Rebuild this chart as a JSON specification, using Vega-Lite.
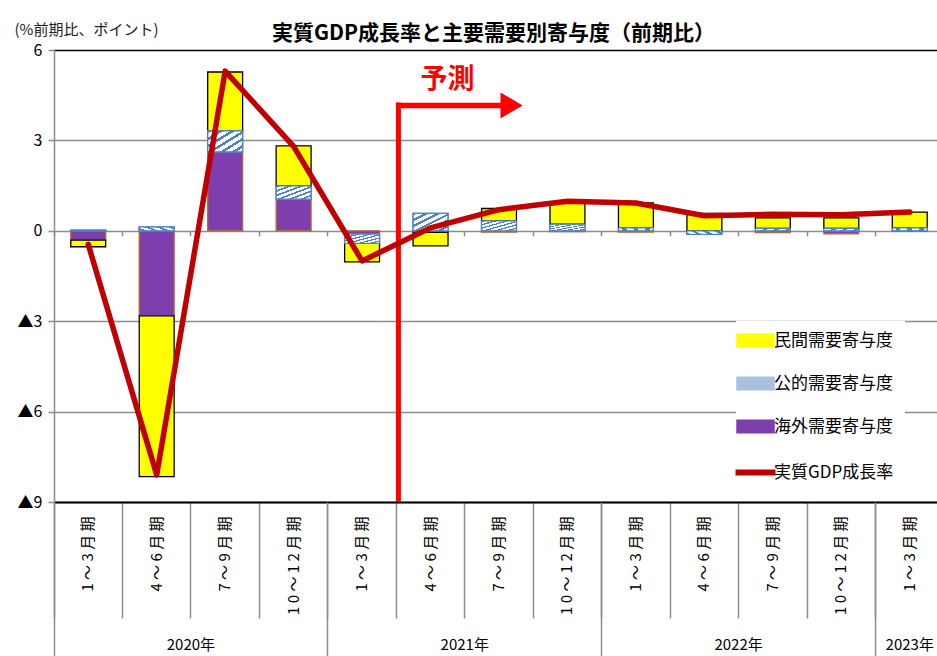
{
  "$schema": "https://vega.github.io/schema/vega-lite/v6.json",
  "width": 883,
  "height": 452,
  "autosize": {"type": "none"},
  "padding": {"left": 54, "top": 50, "right": 0, "bottom": 154},
  "background": "white",
  "config": {"view": {"stroke": null}, "font": "Noto Sans CJK JP"},
  "title": {
    "text": "実質GDP成長率と主要需要別寄与度（前期比）",
    "font": "Noto Sans CJK JP",
    "fontSize": 21,
    "fontWeight": "bold",
    "color": "black",
    "anchor": "middle",
    "frame": "group",
    "offset": 8,
    "dy": 30,
    "dx": -2
  },
  "data": {
    "values": [
      {"q": "2020|1～3月期", "民間需要寄与度": -0.22, "公的需要寄与度": 0.02, "海外需要寄与度": -0.31, "実質GDP成長率": -0.45},
      {"q": "2020|4～6月期", "民間需要寄与度": -5.34, "公的需要寄与度": 0.13, "海外需要寄与度": -2.82, "実質GDP成長率": -8.1},
      {"q": "2020|7～9月期", "民間需要寄与度": 1.95, "公的需要寄与度": 0.7, "海外需要寄与度": 2.62, "実質GDP成長率": 5.3},
      {"q": "2020|10～12月期", "民間需要寄与度": 1.33, "公的需要寄与度": 0.44, "海外需要寄与度": 1.05, "実質GDP成長率": 2.8},
      {"q": "2021|1～3月期", "民間需要寄与度": -0.61, "公的需要寄与度": -0.31, "海外需要寄与度": -0.11, "実質GDP成長率": -1.0},
      {"q": "2021|4～6月期", "民間需要寄与度": -0.45, "公的需要寄与度": 0.58, "海外需要寄与度": -0.05, "実質GDP成長率": 0.1},
      {"q": "2021|7～9月期", "民間需要寄与度": 0.41, "公的需要寄与度": 0.33, "海外需要寄与度": -0.04, "実質GDP成長率": 0.7},
      {"q": "2021|10～12月期", "民間需要寄与度": 0.69, "公的需要寄与度": 0.22, "海外需要寄与度": -0.03, "実質GDP成長率": 0.98},
      {"q": "2022|1～3月期", "民間需要寄与度": 0.83, "公的需要寄与度": 0.1, "海外需要寄与度": -0.04, "実質GDP成長率": 0.92},
      {"q": "2022|4～6月期", "民間需要寄与度": 0.58, "公的需要寄与度": -0.12, "海外需要寄与度": 0.0, "実質GDP成長率": 0.5},
      {"q": "2022|7～9月期", "民間需要寄与度": 0.35, "公的需要寄与度": 0.08, "海外需要寄与度": -0.06, "実質GDP成長率": 0.55},
      {"q": "2022|10～12月期", "民間需要寄与度": 0.35, "公的需要寄与度": 0.08, "海外需要寄与度": -0.1, "実質GDP成長率": 0.53},
      {"q": "2023|1～3月期", "民間需要寄与度": 0.52, "公的需要寄与度": 0.1, "海外需要寄与度": -0.02, "実質GDP成長率": 0.62}
    ]
  },
  "resolve": {"axis": {"x": "independent", "y": "independent"}},
  "layer": [
    {
      "transform": [
        {"fold": ["海外需要寄与度", "公的需要寄与度", "民間需要寄与度"], "as": ["comp", "v"]},
        {"stack": "v", "groupby": ["q"], "as": ["v0", "v1"]}
      ],
      "mark": {"type": "bar", "strokeWidth": 1.3},
      "encoding": {
        "x": {
          "field": "q",
          "type": "nominal",
          "scale": {
            "domain": ["2020|1～3月期", "2020|4～6月期", "2020|7～9月期", "2020|10～12月期", "2021|1～3月期", "2021|4～6月期", "2021|7～9月期", "2021|10～12月期", "2022|1～3月期", "2022|4～6月期", "2022|7～9月期", "2022|10～12月期", "2023|1～3月期"],
            "range": [0, 890],
            "paddingInner": 0.49,
            "paddingOuter": 0.245
          },
          "axis": {
            "orient": "bottom",
            "title": null,
            "bandPosition": -0.4803,
            "tickSize": 116,
            "tickColor": "#8c8c8c",
            "tickWidth": 1.5,
            "domainColor": "black",
            "domainWidth": 2,
            "labelAngle": -90,
            "labelAlign": "right",
            "labelBaseline": "middle",
            "labelPadding": -102,
            "labelFont": "Noto Sans CJK JP",
            "labelFontSize": 15,
            "labelColor": "black",
            "labelExpr": "datum.value ? join(split(split(datum.value, '|')[1], ''), ' ') : ''",
            "grid": false
          }
        },
        "y": {
          "field": "v0",
          "type": "quantitative",
          "scale": {"domain": [-9, 6], "nice": false, "zero": false},
          "axis": {
            "values": [-9, -6, -3, 0, 3, 6],
            "labelExpr": "datum.value < 0 ? '▲' + abs(datum.value) : '' + datum.value",
            "grid": true,
            "gridColor": {"condition": {"test": "datum.value === 6", "value": "black"}, "value": "#8c8c8c"},
            "gridWidth": 1.6,
            "domainColor": "#8c8c8c",
            "domainWidth": 1.5,
            "tickColor": "#8c8c8c",
            "tickSize": 6,
            "tickWidth": 1.5,
            "labelFont": "Noto Sans CJK JP",
            "labelFontSize": 16,
            "labelColor": "black",
            "labelPadding": 6,
            "title": "(%前期比、ポイント)",
            "titleAngle": 0,
            "titleX": -40,
            "titleY": -21,
            "titleAlign": "left",
            "titleBaseline": "middle",
            "titleFont": "Noto Sans CJK JP",
            "titleFontSize": 15,
            "titleFontWeight": "normal",
            "titleColor": "#222222"
          }
        },
        "y2": {"field": "v1"},
        "color": {
          "field": "comp",
          "type": "nominal",
          "scale": {
            "domain": ["民間需要寄与度", "公的需要寄与度", "海外需要寄与度", "実質GDP成長率"],
            "range": ["#FFFF00", "#A9C1DF", "#7D3FAD", "#C00000"]
          },
          "legend": {
            "orient": "none",
            "legendX": 682,
            "legendY": 271,
            "title": null,
            "fillColor": "white",
            "padding": 11,
            "symbolSize": 1444,
            "symbolStrokeWidth": 1.5,
            "rowPadding": 24,
            "labelFont": "Noto Sans CJK JP",
            "labelFontSize": 17,
            "labelColor": "black",
            "labelOffset": 10,
            "labelLimit": 300,
            "encode": {
              "symbols": {
                "update": {
                  "shape": {"signal": "datum.value === '実質GDP成長率' ? 'stroke' : 'M-1,-0.34H1V0.34H-1Z'"},
                  "size": {"signal": "datum.value === '実質GDP成長率' ? 1600 : 1369"},
                  "strokeWidth": {"signal": "datum.value === '実質GDP成長率' ? 6 : 1.5"},
                  "opacity": {"value": 1}
                }
              }
            }
          }
        },
        "stroke": {
          "field": "comp",
          "type": "nominal",
          "scale": {
            "domain": ["民間需要寄与度", "公的需要寄与度", "海外需要寄与度", "実質GDP成長率"],
            "range": ["#000000", "#4F81BD", "#B8662E", "#C00000"]
          }
        }
      }
    },
    {
      "transform": [
        {"fold": ["海外需要寄与度", "公的需要寄与度", "民間需要寄与度"], "as": ["comp", "v"]},
        {"stack": "v", "groupby": ["q"], "as": ["v0", "v1"]},
        {"filter": "datum.comp === '公的需要寄与度'"}
      ],
      "mark": {
        "type": "bar",
        "stroke": "#4F81BD",
        "strokeWidth": 1.3,
        "fill": {
          "gradient": "linear", "x1": 0, "y1": 0, "x2": 1, "y2": 1,
          "stops": [
            {"offset": 0, "color": "#4F81BD"}, {"offset": 0.0667, "color": "#4F81BD"}, {"offset": 0.0667, "color": "#FFFFFF"}, {"offset": 0.1667, "color": "#FFFFFF"},
            {"offset": 0.1667, "color": "#4F81BD"}, {"offset": 0.2333, "color": "#4F81BD"}, {"offset": 0.2333, "color": "#FFFFFF"}, {"offset": 0.3333, "color": "#FFFFFF"},
            {"offset": 0.3333, "color": "#4F81BD"}, {"offset": 0.4, "color": "#4F81BD"}, {"offset": 0.4, "color": "#FFFFFF"}, {"offset": 0.5, "color": "#FFFFFF"},
            {"offset": 0.5, "color": "#4F81BD"}, {"offset": 0.5667, "color": "#4F81BD"}, {"offset": 0.5667, "color": "#FFFFFF"}, {"offset": 0.6667, "color": "#FFFFFF"},
            {"offset": 0.6667, "color": "#4F81BD"}, {"offset": 0.7333, "color": "#4F81BD"}, {"offset": 0.7333, "color": "#FFFFFF"}, {"offset": 0.8333, "color": "#FFFFFF"},
            {"offset": 0.8333, "color": "#4F81BD"}, {"offset": 0.9, "color": "#4F81BD"}, {"offset": 0.9, "color": "#FFFFFF"}, {"offset": 1, "color": "#FFFFFF"}
          ]
        }
      },
      "encoding": {
        "x": {
          "field": "q",
          "type": "nominal",
          "scale": {
            "domain": ["2020|1～3月期", "2020|4～6月期", "2020|7～9月期", "2020|10～12月期", "2021|1～3月期", "2021|4～6月期", "2021|7～9月期", "2021|10～12月期", "2022|1～3月期", "2022|4～6月期", "2022|7～9月期", "2022|10～12月期", "2023|1～3月期"]
          },
          "axis": {
            "orient": "bottom",
            "title": null,
            "values": ["2020|1～3月期", "2021|1～3月期", "2022|1～3月期", "2023|1～3月期"],
            "bandPosition": -0.4803,
            "tickSize": 154,
            "tickColor": "#8c8c8c",
            "tickWidth": 1.5,
            "labels": false,
            "domain": false,
            "grid": false
          }
        },
        "y": {"field": "v0", "type": "quantitative", "axis": null},
        "y2": {"field": "v1"}
      }
    },
    {
      "data": {"values": [{"label": "予測"}]},
      "mark": {"type": "rule", "color": "#FF0000", "strokeWidth": 5},
      "encoding": {
        "x": {
          "datum": "2021|4～6月期",
          "type": "nominal",
          "bandPosition": -0.42,
          "scale": {
            "domain": ["2020|1～3月期", "2020|4～6月期", "2020|7～9月期", "2020|10～12月期", "2021|1～3月期", "2021|4～6月期", "2021|7～9月期", "2021|10～12月期", "2022|1～3月期", "2022|4～6月期", "2022|7～9月期", "2022|10～12月期", "2023|1～3月期"]
          },
          "axis": {
            "orient": "bottom",
            "title": null,
            "values": ["2020|7～9月期", "2021|7～9月期", "2022|7～9月期"],
            "ticks": false,
            "domain": false,
            "grid": false,
            "labelOffset": -34.23,
            "labelPadding": 135,
            "labelAngle": 0,
            "labelAlign": "center",
            "labelBaseline": "top",
            "labelFont": "Noto Sans CJK JP",
            "labelFontSize": 15,
            "labelColor": "black",
            "labelExpr": "datum.value ? split(datum.value, '|')[0] + '年' : ''"
          }
        },
        "y": {"datum": -9, "type": "quantitative", "axis": null},
        "y2": {"datum": 4.26}
      }
    },
    {
      "data": {"values": [{"label": "予測"}]},
      "mark": {"type": "rule", "color": "#FF0000", "strokeWidth": 5.5},
      "encoding": {
        "x": {
          "datum": "2021|4～6月期",
          "type": "nominal",
          "bandPosition": -0.48,
          "scale": {
            "domain": ["2020|1～3月期", "2020|4～6月期", "2020|7～9月期", "2020|10～12月期", "2021|1～3月期", "2021|4～6月期", "2021|7～9月期", "2021|10～12月期", "2022|1～3月期", "2022|4～6月期", "2022|7～9月期", "2022|10～12月期", "2023|1～3月期"]
          },
          "axis": {
            "orient": "bottom",
            "title": null,
            "values": ["2023|1～3月期"],
            "ticks": false,
            "domain": false,
            "grid": false,
            "labelPadding": 135,
            "labelAngle": 0,
            "labelAlign": "center",
            "labelBaseline": "top",
            "labelFont": "Noto Sans CJK JP",
            "labelFontSize": 15,
            "labelColor": "black",
            "labelExpr": "datum.value ? split(datum.value, '|')[0] + '年' : ''"
          }
        },
        "x2": {"datum": "2021|7～9月期", "bandPosition": 0.7},
        "y": {"datum": 4.16, "type": "quantitative", "axis": null}
      }
    },
    {
      "data": {"values": [{"label": "予測"}]},
      "mark": {"type": "point", "shape": "M-0.85,-1L0.85,0L-0.85,1Z", "filled": true, "color": "#FF0000", "opacity": 1, "size": 676},
      "encoding": {
        "x": {
          "datum": "2021|7～9月期",
          "type": "nominal",
          "bandPosition": 0.86,
          "scale": {
            "domain": ["2020|1～3月期", "2020|4～6月期", "2020|7～9月期", "2020|10～12月期", "2021|1～3月期", "2021|4～6月期", "2021|7～9月期", "2021|10～12月期", "2022|1～3月期", "2022|4～6月期", "2022|7～9月期", "2022|10～12月期", "2023|1～3月期"]
          },
          "axis": {
            "orient": "bottom",
            "title": null,
            "offset": -271.2,
            "bandPosition": -0.4803,
            "tickSize": 5,
            "tickColor": "#8c8c8c",
            "tickWidth": 1.5,
            "labels": false,
            "domain": false,
            "grid": false
          }
        },
        "y": {"datum": 4.16, "type": "quantitative", "axis": null}
      }
    },
    {
      "data": {"values": [{"label": "予測"}]},
      "mark": {"type": "text", "color": "#FF0000", "font": "Noto Sans CJK JP", "fontSize": 27, "fontWeight": "bold", "align": "center", "baseline": "middle"},
      "encoding": {
        "x": {
          "datum": "2021|4～6月期",
          "type": "nominal",
          "bandPosition": 0.985,
          "scale": {
            "domain": ["2020|1～3月期", "2020|4～6月期", "2020|7～9月期", "2020|10～12月期", "2021|1～3月期", "2021|4～6月期", "2021|7～9月期", "2021|10～12月期", "2022|1～3月期", "2022|4～6月期", "2022|7～9月期", "2022|10～12月期", "2023|1～3月期"]
          },
          "axis": null
        },
        "y": {"datum": 5.0, "type": "quantitative", "axis": null},
        "text": {"field": "label"}
      }
    },
    {
      "mark": {"type": "line", "strokeWidth": 5.5, "strokeCap": "round", "strokeJoin": "round"},
      "encoding": {
        "x": {
          "field": "q",
          "type": "nominal",
          "scale": {
            "domain": ["2020|1～3月期", "2020|4～6月期", "2020|7～9月期", "2020|10～12月期", "2021|1～3月期", "2021|4～6月期", "2021|7～9月期", "2021|10～12月期", "2022|1～3月期", "2022|4～6月期", "2022|7～9月期", "2022|10～12月期", "2023|1～3月期"]
          },
          "axis": null
        },
        "y": {"field": "実質GDP成長率", "type": "quantitative", "axis": null},
        "color": {"datum": "実質GDP成長率", "type": "nominal"}
      }
    }
  ]
}
